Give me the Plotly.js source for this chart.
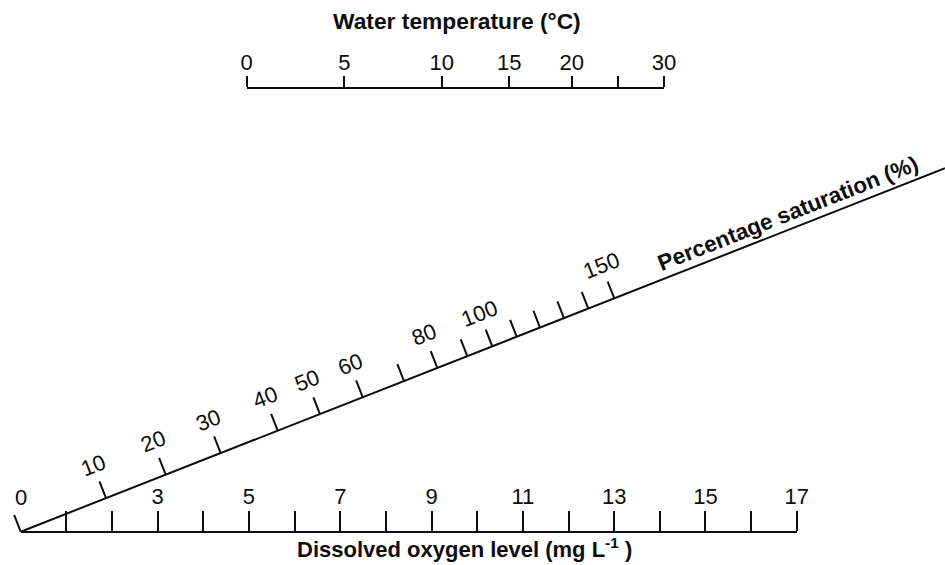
<!DOCTYPE html>
<html>
<head>
<meta charset="utf-8">
<script src="https://cdn.plot.ly/plotly-3.0.1.min.js"></script>
<style>
  html, body { margin: 0; padding: 0; background: #ffffff; }
  #chart { width: 945px; height: 565px; }
</style>
</head>
<body>
<div id="chart"></div>
<script>
// ---------- data ----------
// Dissolved oxygen scale (mg/L)
const doTicks  = [1, 2, 3, 4, 5, 6, 7, 8, 9, 10, 11, 12, 13, 14, 15, 16, 17];
const doLabels = ['', '', '3', '', '5', '', '7', '', '9', '', '11', '', '13', '', '15', '', '17'];
const doZeroLabel = '0';

// Water temperature scale (°C) and where each mark falls along the DO scale (mg/L)
const tempValues  = [0, 5, 10, 15, 20, 25, 30];
const tempLabels  = ['0', '5', '10', '15', '20', '', '30'];
const tempTickPos = [4.951, 7.089, 9.223, 10.704, 12.070, 13.091, 14.092];

// Percentage saturation scale (%) and the DO-scale position (mg/L) under each mark
const satValues  = [0, 10, 20, 30, 40, 50, 60, 70, 80, 90, 100, 110, 120, 130, 140, 150];
const satLabels  = ['', '10', '20', '30', '40', '50', '60', '', '80', '', '100', '', '', '', '', '150'];
const satTickPos = [0, 1.869, 3.176, 4.381, 5.630, 6.556, 7.492, 8.396, 9.126, 9.783,
                    10.331, 10.865, 11.376, 11.901, 12.434, 13.003];

const titleTemp = 'Water temperature (°C)';
const titleDO   = 'Dissolved oxygen level (mg L<sup>-1</sup> )';
const titleSat  = 'Percentage saturation (%)';

// ---------- geometry / style ----------
const W = 945, H = 565;
const PX = 45.65;          // pixels per mg/L
const X0 = 20.7;           // pixel x of DO = 0
const BASE = 531.7;        // pixel y of the DO baseline
const TEMP_Y = 88.3;       // pixel y of the temperature line
const SLOPE = 0.3932;      // slope of the saturation line
const THETA = Math.atan(SLOPE);
const INK = '#0d0d0d';
const FONT = 'Liberation Sans, Arial, Helvetica, sans-serif';
const LW = 2;

const xr = [-X0 / PX, (W - X0) / PX];
const yr = [-(H - BASE) / PX, BASE / PX];
const toDomX = v => (v - xr[0]) / (xr[1] - xr[0]);

// perpendicular (up-left) unit vector in data units (equal scale on both axes)
const nx = -Math.sin(THETA), ny = Math.cos(THETA);
const tickLen = 18 / PX, labelOff = 35.5 / PX;

// saturation line
const lineX = [0, xr[1]];
const lineY = lineX.map(v => v * SLOPE);

// saturation ticks
const stx = [], sty = [];
satTickPos.forEach(p => {
  const bx = p, by = p * SLOPE;
  stx.push(bx, bx + nx * tickLen, null);
  sty.push(by, by + ny * tickLen, null);
});

const annotations = [];
satTickPos.forEach((p, i) => {
  if (!satLabels[i]) return;
  annotations.push({
    xref: 'x', yref: 'y',
    x: p + nx * labelOff, y: p * SLOPE + ny * labelOff,
    text: satLabels[i], showarrow: false,
    xanchor: 'center', yanchor: 'middle',
    textangle: -THETA * 180 / Math.PI,
    font: {family: FONT, size: 22, color: INK}
  });
});
// "0" at the origin of the DO scale
annotations.push({
  xref: 'x', yref: 'y', x: 0, y: (BASE - 497) / PX,
  text: doZeroLabel, showarrow: false, xanchor: 'center', yanchor: 'middle',
  font: {family: FONT, size: 22, color: INK}
});
// saturation title along the line
annotations.push({
  xref: 'paper', yref: 'paper', x: 788 / W, y: 1 - 213 / H,
  text: '<b>' + titleSat + '</b>', showarrow: false,
  xanchor: 'center', yanchor: 'middle',
  textangle: -THETA * 180 / Math.PI,
  font: {family: FONT, size: 22.5, color: INK}
});
// temperature title
annotations.push({
  xref: 'paper', yref: 'paper', x: 456.5 / W, y: 1 - 21 / H,
  text: '<b>' + titleTemp + '</b>', showarrow: false,
  xanchor: 'center', yanchor: 'middle',
  font: {family: FONT, size: 22.8, color: INK}
});
// DO title
annotations.push({
  xref: 'paper', yref: 'paper', x: 464 / W, y: 1 - 548 / H,
  text: '<b>' + titleDO + '</b>', showarrow: false,
  xanchor: 'center', yanchor: 'middle',
  font: {family: FONT, size: 22, color: INK}
});

const traces = [
  {type: 'scatter', mode: 'lines', x: lineX, y: lineY, xaxis: 'x', yaxis: 'y',
   line: {color: INK, width: LW}, hoverinfo: 'skip', showlegend: false},
  {type: 'scatter', mode: 'lines', x: stx, y: sty, xaxis: 'x', yaxis: 'y',
   line: {color: INK, width: LW}, hoverinfo: 'skip', showlegend: false, connectgaps: false},
  {type: 'scatter', mode: 'markers', x: [], y: [], xaxis: 'x2', yaxis: 'y',
   hoverinfo: 'skip', showlegend: false},
  {type: 'scatter', mode: 'markers', x: [], y: [], xaxis: 'x3', yaxis: 'y',
   hoverinfo: 'skip', showlegend: false}
];

const axisStyle = {
  anchor: 'free', side: 'top', showgrid: false, zeroline: false,
  showline: true, linecolor: INK, linewidth: LW,
  ticks: 'outside', tickcolor: INK, tickwidth: LW, tickmode: 'array',
  tickfont: {family: FONT, size: 22, color: INK}, automargin: false, fixedrange: true
};

const layout = {
  width: W, height: H,
  margin: {l: 0, r: 0, t: 0, b: 0, pad: 0},
  paper_bgcolor: '#ffffff', plot_bgcolor: 'rgba(0,0,0,0)',
  showlegend: false,
  xaxis: {range: xr, visible: false, domain: [0, 1], fixedrange: true},
  yaxis: {range: yr, visible: false, domain: [0, 1], fixedrange: true},
  xaxis2: Object.assign({}, axisStyle, {
    domain: [toDomX(0), toDomX(17)], range: [0, 17],
    position: (H - BASE) / H, ticklen: 20,
    tickvals: doTicks, ticktext: doLabels, ticklabelstandoff: -2
  }),
  xaxis3: Object.assign({}, axisStyle, {
    domain: [toDomX(tempTickPos[0]), toDomX(tempTickPos[tempTickPos.length - 1])],
    range: [tempTickPos[0], tempTickPos[tempTickPos.length - 1]],
    position: (H - TEMP_Y) / H, ticklen: 11,
    tickvals: tempTickPos, ticktext: tempLabels, ticklabelstandoff: -2
  }),
  annotations: annotations
};

Plotly.newPlot('chart', traces, layout, {staticPlot: true, displayModeBar: false});
</script>
</body>
</html>
